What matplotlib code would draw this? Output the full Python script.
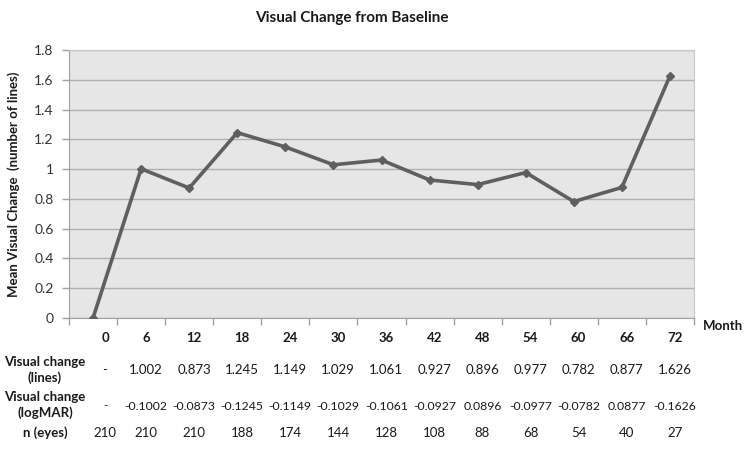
import matplotlib
matplotlib.use("Agg")
import matplotlib.pyplot as plt
import matplotlib.transforms as transforms
from matplotlib.ticker import FuncFormatter

plt.rcParams['font.family'] = ['Lato', 'DejaVu Sans']

months = ["0", "6", "12", "18", "24", "30", "36", "42", "48", "54", "60", "66", "72"]
change_lines = [0, 1.002, 0.873, 1.245, 1.149, 1.029, 1.061, 0.927, 0.896, 0.977, 0.782, 0.877, 1.626]
lines_text = ["-", "1.002", "0.873", "1.245", "1.149", "1.029", "1.061", "0.927", "0.896",
              "0.977", "0.782", "0.877", "1.626"]
logmar_text = ["-", "-0.1002", "-0.0873", "-0.1245", "-0.1149", "-0.1029", "-0.1061", "-0.0927",
               "0.0896", "-0.0977", "-0.0782", "0.0877", "-0.1626"]
n_eyes = ["210", "210", "210", "188", "174", "144", "128", "108", "88", "68", "54", "40", "27"]
row_labels = ["Visual change\n(lines)", "Visual change\n(logMAR)", "n (eyes)"]

W, H = 746, 461
fig = plt.figure(figsize=(W / 100, H / 100), dpi=100)
ax = fig.add_axes([69 / W, 1 - 318 / H, (694 - 69) / W, (318 - 50) / H])

x = list(range(len(months)))
ax.set_facecolor("#e6e6e6")
ax.plot(x, change_lines, color="#5f5f5f", lw=2.6, marker="D", ms=4, zorder=3)

ax.set_xlim(-0.5, len(months) - 0.5)
ax.set_ylim(0, 1.8)
ax.set_yticks([i * 0.2 for i in range(10)])
ax.yaxis.set_major_formatter(FuncFormatter(lambda v, p: "%g" % round(v, 1)))
ax.grid(axis="y", color="#b0b0b0", lw=1)
ax.set_axisbelow(True)

# category boundaries as ticks, labels via text to line up with the table
ax.set_xticks([i - 0.5 for i in range(len(months) + 1)])
ax.set_xticklabels([])
ax.tick_params(axis="x", length=5, color="#a0a0a0", width=1)
ax.tick_params(axis="y", length=5, color="#a0a0a0", width=1, labelsize=10, labelcolor="#333333", pad=6)

for s in ["top", "right"]:
    ax.spines[s].set_color("#c8c8c8")
for s in ["left", "bottom"]:
    ax.spines[s].set_color("#a0a0a0")

ax.set_ylabel("Mean Visual Change  (number of lines)", fontsize=9.5, fontweight="bold", labelpad=10,
              color="#1a1a1a")
fig.text(352 / W, 1 - 18 / H, "Visual Change from Baseline", ha="center", va="center",
         fontsize=11, fontweight="bold", color="#1a1a1a")
fig.text(703 / W, 1 - 326 / H, "Month", ha="left", va="center", fontsize=9.5, fontweight="bold",
         color="#1a1a1a")

tr = transforms.blended_transform_factory(ax.transData, fig.transFigure)
offs = [0.25] + [0.1] * (len(months) - 1)
for i, m in enumerate(months):
    xi = i + offs[i]
    ax.text(xi, 1 - 338 / H, m, transform=tr, ha="center", va="center", fontsize=9.5,
            fontweight="bold", color="#1a1a1a")
    ax.text(xi, 1 - 370 / H, lines_text[i], transform=tr, ha="center", va="center", fontsize=9.5,
            color="#1a1a1a")
    ax.text(xi, 1 - 406 / H, logmar_text[i], transform=tr, ha="center", va="center", fontsize=8.8,
            color="#1a1a1a")
    ax.text(xi, 1 - 433 / H, n_eyes[i], transform=tr, ha="center", va="center", fontsize=9.5,
            color="#1a1a1a")

for lab, yy in zip(row_labels, [370, 405, 433]):
    fig.text(45 / W, 1 - yy / H, lab, ha="center", va="center", fontsize=9.5, fontweight="bold",
             linespacing=1.3, color="#1a1a1a")

fig.savefig("out.png", dpi=100)
